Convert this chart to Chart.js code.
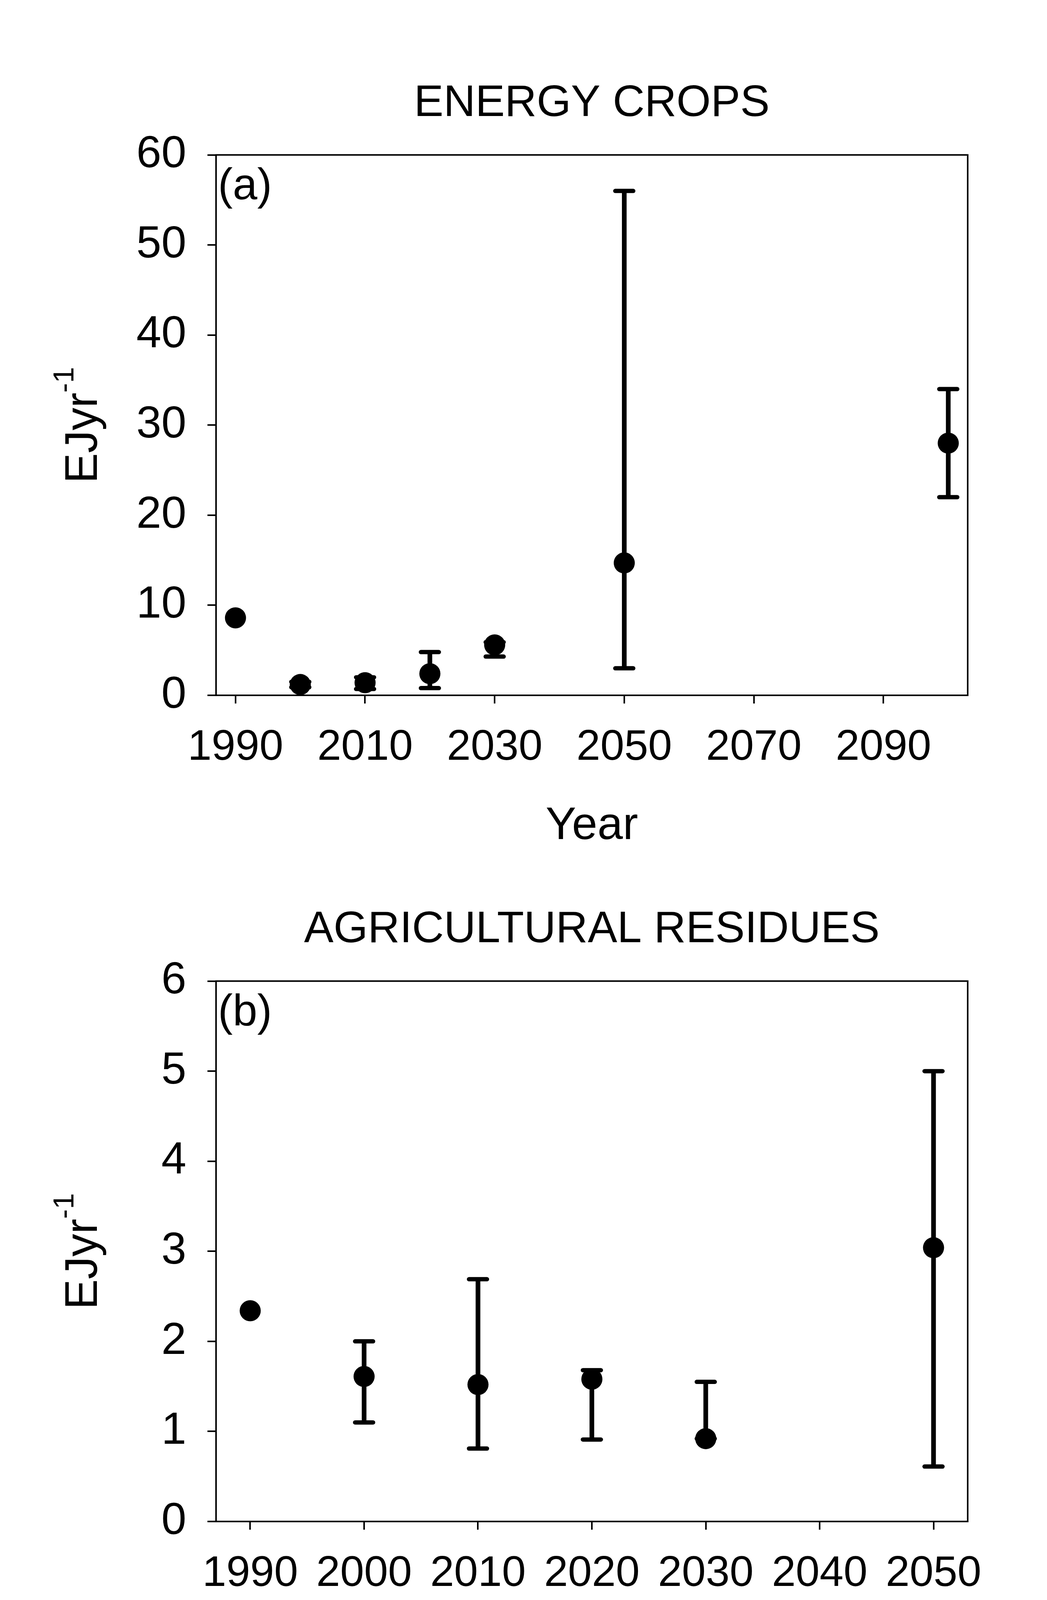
<!DOCTYPE html>
<html>
<head>
<meta charset="utf-8">
<script src="https://cdn.jsdelivr.net/npm/chart.js@4.4.1/dist/chart.umd.min.js"></script>
<style>
  html, body { margin: 0; padding: 0; background: #fff; }
  body { width: 2680px; height: 6532px; position: relative; overflow: hidden; }
  canvas { position: absolute; left: 0; }
</style>
</head>
<body>
<canvas id="panelA" width="2680" height="2200" style="top:0px"></canvas>
<canvas id="panelB" width="2680" height="2200" style="top:2115px"></canvas>
<canvas id="panelC" width="2680" height="2200" style="top:4230px"></canvas>
<script>
// values
const titles = ['ENERGY CROPS', 'AGRICULTURAL RESIDUES', 'FOREST BIOMASS'];
const letters = ['(a)', '(b)', '(c)'];
const xLabel = 'Year';
const yLabel = 'EJyr';
const ySup = '-1';

// (a) energy crops
const yearsA = [1990, 2000, 2010, 2020, 2030, 2050, 2100];
const meanA  = [8.6, 1.2, 1.4, 2.4, 5.6, 14.7, 28.0];
const lowA   = [null, 0.9, 0.7, 0.8, 4.3, 3.0, 22.0];
const highA  = [null, 1.5, 2.0, 4.8, 5.9, 56.0, 34.0];
const xTicksA = [1990, 2010, 2030, 2050, 2070, 2090];
const xRangeA = [1987, 2103];
const yRangeA = [0, 60, 10];

// (b) agricultural residues
const yearsB = [1990, 2000, 2010, 2020, 2030, 2050];
const meanB  = [2.34, 1.61, 1.52, 1.58, 0.92, 3.04];
const lowB   = [null, 1.10, 0.81, 0.91, 0.92, 0.61];
const highB  = [null, 2.00, 2.69, 1.68, 1.55, 5.00];
const xTicksB = [1990, 2000, 2010, 2020, 2030, 2040, 2050];
const xRangeB = [1987, 2053];
const yRangeB = [0, 6, 1];

// (c) forest biomass
const yearsC = [2000, 2010, 2020, 2030, 2050];
const meanC  = [0.89, 1.68, 0.90, 1.30, 3.10];
const lowC   = [0.36, 0.82, 0.43, 0.60, 0.60];
const highC  = [1.77, 6.00, 5.91, 5.91, 10.60];
const xTicksC = [2000, 2010, 2020, 2030, 2040, 2050];
const xRangeC = [1997, 2053];
const yRangeC = [0, 12, 2];

const FONT = "'Liberation Sans', Arial, sans-serif";
Chart.defaults.color = '#000';
Chart.defaults.font.family = FONT;

// box around the plot, panel letter and the y title with its superscript
const framePlugin = {
  id: 'frame',
  beforeDatasetsDraw(chart) { chart.ctx.save(); chart.ctx.lineCap = 'round'; },
  afterDatasetsDraw(chart) { chart.ctx.restore(); },
  afterDraw(chart, args, o) {
    const {ctx, chartArea: a} = chart;
    ctx.save();
    ctx.strokeStyle = '#000';
    ctx.lineWidth = 4;
    ctx.strokeRect(a.left, a.top, a.right - a.left, a.bottom - a.top);
    ctx.fillStyle = '#000';
    ctx.textAlign = 'left';
    ctx.textBaseline = 'alphabetic';
    ctx.font = `113px ${FONT}`;
    ctx.fillText(o.letter, a.left + 5, a.top + 113);

    ctx.translate(a.left - 305, (a.top + a.bottom) / 2);
    ctx.rotate(-Math.PI / 2);
    ctx.font = `116px ${FONT}`;
    const w1 = ctx.measureText(yLabel).width;
    ctx.font = `74px ${FONT}`;
    const w2 = ctx.measureText(ySup).width;
    const x0 = -(w1 + w2) / 2;
    ctx.font = `116px ${FONT}`;
    ctx.fillText(yLabel, x0, 0);
    ctx.font = `74px ${FONT}`;
    ctx.fillText(ySup, x0 + w1, -60);
    ctx.restore();
  }
};

function makePanel(id, title, letter, years, mean, low, high, xTicks, xRange, yRange, axisW, rightPad) {
  const bars = years.map((x, i) => low[i] == null ? null : {
    type: 'line',
    data: [{x, y: low[i]}, {x, y: high[i]}],
    borderColor: '#000',
    borderWidth: 12,
    borderCapStyle: 'butt',
    pointStyle: 'line',
    pointRadius: 23,
    pointHoverRadius: 23,
    pointBorderWidth: 11,
    pointBorderColor: '#000',
    clip: false,
    order: 1
  }).filter(Boolean);

  return new Chart(document.getElementById(id), {
    type: 'scatter',
    data: {
      datasets: [{
        data: years.map((x, i) => ({x, y: mean[i]})),
        pointRadius: 27,
        pointHoverRadius: 27,
        pointBackgroundColor: '#000',
        pointBorderWidth: 0,
        clip: false,
        order: 0
      }, ...bars]
    },
    options: {
      responsive: false,
      animation: false,
      devicePixelRatio: 1,
      events: [],
      layout: {padding: {top: 198, left: 0, right: rightPad, bottom: 0}},
      plugins: {
        legend: {display: false},
        tooltip: {enabled: false},
        title: {
          display: true, text: title, fullSize: false,
          font: {size: 113, weight: 'normal'}, color: '#000',
          padding: {top: 0, bottom: 63}
        },
        frame: {letter}
      },
      scales: {
        x: {
          type: 'linear', bounds: 'data', min: xRange[0], max: xRange[1],
          afterBuildTicks: s => { s.ticks = xTicks.map(v => ({value: v})); },
          afterFit: s => { s.height = 420; },
          ticks: {autoSkip: false, maxRotation: 0, padding: 48, font: {size: 110}, color: '#000',
                  callback: v => String(v)},
          grid: {drawOnChartArea: false, drawTicks: true, tickLength: 21, color: '#000', lineWidth: 4},
          border: {display: true, color: '#000', width: 4},
          title: {display: true, text: xLabel, font: {size: 117}, color: '#000', padding: {top: 0, bottom: 14}}
        },
        y: {
          type: 'linear', min: yRange[0], max: yRange[1],
          afterFit: s => { s.width = axisW; },
          ticks: {stepSize: yRange[2], padding: 54, font: {size: 115}, color: '#000'},
          grid: {drawOnChartArea: false, drawTicks: true, tickLength: 22, color: '#000', lineWidth: 4},
          border: {display: true, color: '#000', width: 4},
          title: {display: false}
        }
      }
    },
    plugins: [framePlugin]
  });
}

makePanel('panelA', titles[0], letters[0], yearsA, meanA, lowA, highA, xTicksA, xRangeA, yRangeA, 553, 203);
makePanel('panelB', titles[1], letters[1], yearsB, meanB, lowB, highB, xTicksB, xRangeB, yRangeB, 553, 203);
makePanel('panelC', titles[2], letters[2], yearsC, meanC, lowC, highC, xTicksC, xRangeC, yRangeC, 543, 211);
</script>
</body>
</html>
